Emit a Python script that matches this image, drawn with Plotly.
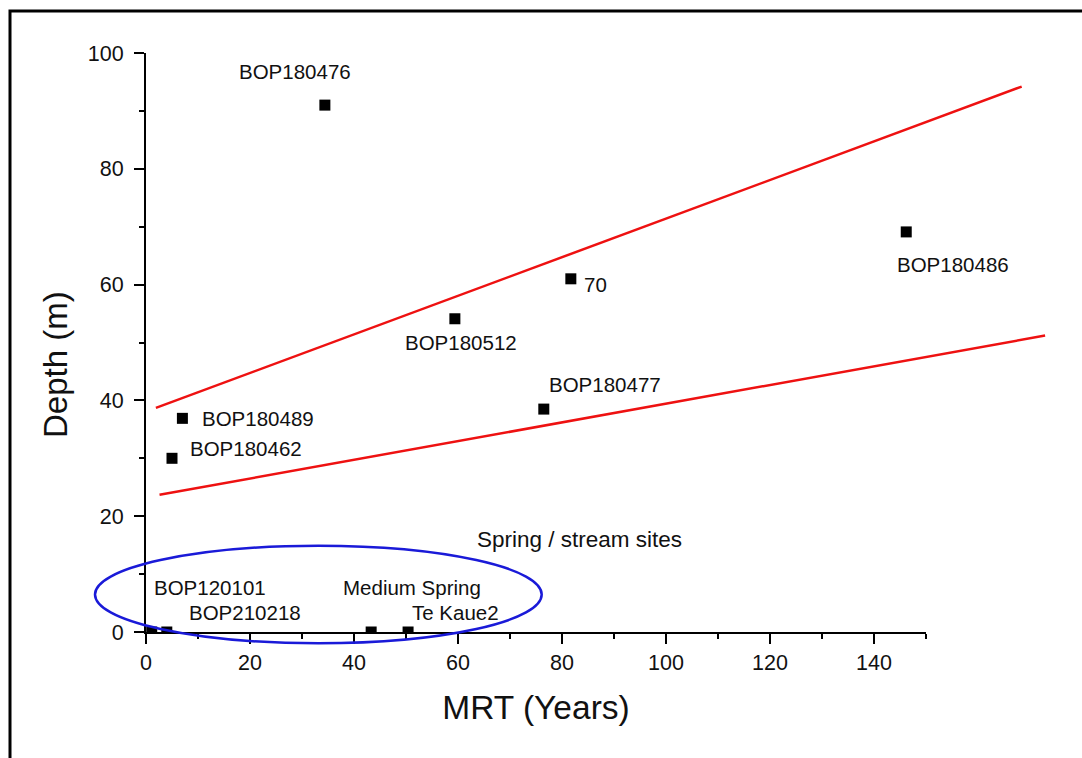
import plotly.graph_objects as go

# Sites: mean residence time (years) vs well depth (m)
site_names = ["BOP180476", "BOP180486", "70", "BOP180512", "BOP180477",
              "BOP180489", "BOP180462", "BOP120101", "BOP210218",
              "Medium Spring", "Te Kaue2"]
mrt_years = [34.4, 146.2, 81.7, 59.4, 76.5, 7.0, 5.0, 1.1, 4.0, 43.3, 50.4]
depth_m = [91.0, 69.1, 61.0, 54.1, 38.5, 36.9, 30.0, 0.0, 0.0, 0.0, 0.0]

# Label offsets (pixels) of each site name from its marker
label_dx = [-88, -11, 11, -52, 3, 18, 16, 0, 20, -30, 2]
label_dy = [34, -33, -6, -24, 25, 0, 10, 45, 20, 45, 20]

# Bounding lines of the depth/MRT envelope
upper_x = [1.9, 168.4]
upper_y = [38.7, 94.2]
lower_x = [2.6, 172.9]
lower_y = [23.7, 51.2]

x_ticks = [0, 20, 40, 60, 80, 100, 120, 140]
y_ticks = [0, 20, 40, 60, 80, 100]

W, H = 1082, 758
ML, MR, MT, MB = 146, 22, 53, 126
plot_w = W - ML - MR
plot_h = H - MT - MB
x_max = 150
main_frac = 780 / plot_w

FONT = "Liberation Sans, Arial, sans-serif"

fig = go.Figure()

fig.add_trace(go.Scatter(x=upper_x, y=upper_y, mode="lines", xaxis="x2", yaxis="y",
                         line=dict(color="#ee1111", width=2.5), showlegend=False))
fig.add_trace(go.Scatter(x=lower_x, y=lower_y, mode="lines", xaxis="x2", yaxis="y",
                         line=dict(color="#ee1111", width=2.5), showlegend=False))

fig.add_trace(go.Scatter(x=mrt_years, y=depth_m, mode="markers",
                         marker=dict(symbol="square", size=11, color="black"),
                         cliponaxis=True, showlegend=False))

annotations = []
for name, x, y, dx, dy in zip(site_names, mrt_years, depth_m, label_dx, label_dy):
    annotations.append(dict(x=x, y=y, xref="x", yref="y", text=name, showarrow=False,
                            xanchor="left", yanchor="middle", xshift=dx, yshift=dy,
                            font=dict(family=FONT, size=20.5, color="#111")))

annotations.append(dict(x=63.3, y=15.9, xref="x", yref="y", text="Spring / stream sites",
                        showarrow=False, xanchor="left", yanchor="middle",
                        font=dict(family=FONT, size=22.5, color="#111")))

annotations.append(dict(x=(55 - ML) / plot_w, y=(H - MB - 365) / plot_h,
                        xref="paper", yref="paper", text="Depth (m)", textangle=-90,
                        showarrow=False, xanchor="center", yanchor="middle",
                        font=dict(family=FONT, size=33, color="#111")))

shapes = [
    # outer frame (left and top edges visible)
    dict(type="rect", xref="paper", yref="paper",
         x0=(10 - ML) / plot_w, x1=(1100 - ML) / plot_w,
         y0=(H - MB - 790) / plot_h, y1=(H - MB - 11) / plot_h,
         line=dict(color="black", width=3), fillcolor="rgba(0,0,0,0)"),
    # ellipse around spring / stream sites
    dict(type="circle", xref="paper", yref="paper",
         x0=(95 - ML) / plot_w, x1=(541.7 - ML) / plot_w,
         y0=(H - MB - 643.3) / plot_h, y1=(H - MB - 545.7) / plot_h,
         line=dict(color="#1a1ad8", width=2.5)),
]

fig.update_layout(
    width=W, height=H,
    margin=dict(l=ML, r=MR, t=MT, b=MB),
    paper_bgcolor="white", plot_bgcolor="rgba(0,0,0,0)",
    font=dict(family=FONT, color="#111"),
    xaxis=dict(domain=[0, main_frac], range=[0, x_max], anchor="y",
               showline=True, linecolor="black", linewidth=2,
               ticks="outside", ticklen=10, tickwidth=2, tickcolor="black",
               tickvals=x_ticks, tickfont=dict(family=FONT, size=21.5, color="#111"),
               showgrid=False, zeroline=False,
               minor=dict(ticks="outside", ticklen=5, tickwidth=2, tickcolor="black",
                          dtick=10, tick0=0, showgrid=False),
               title=dict(text="MRT (Years)", font=dict(family=FONT, size=33.5, color="#111"),
                          standoff=22)),
    xaxis2=dict(domain=[0, 1], range=[0, x_max / main_frac], anchor="y", visible=False),
    yaxis=dict(domain=[0, 1], range=[0, 100], anchor="x",
               showline=True, linecolor="black", linewidth=2,
               ticks="outside", ticklen=10, tickwidth=2, tickcolor="black",
               ticklabelstandoff=6,
               tickvals=y_ticks, tickfont=dict(family=FONT, size=21.5, color="#111"),
               showgrid=False, zeroline=False,
               minor=dict(ticks="outside", ticklen=5, tickwidth=2, tickcolor="black",
                          dtick=10, tick0=0, showgrid=False)),
    annotations=annotations,
    shapes=shapes,
)

fig.write_html("out.html")
